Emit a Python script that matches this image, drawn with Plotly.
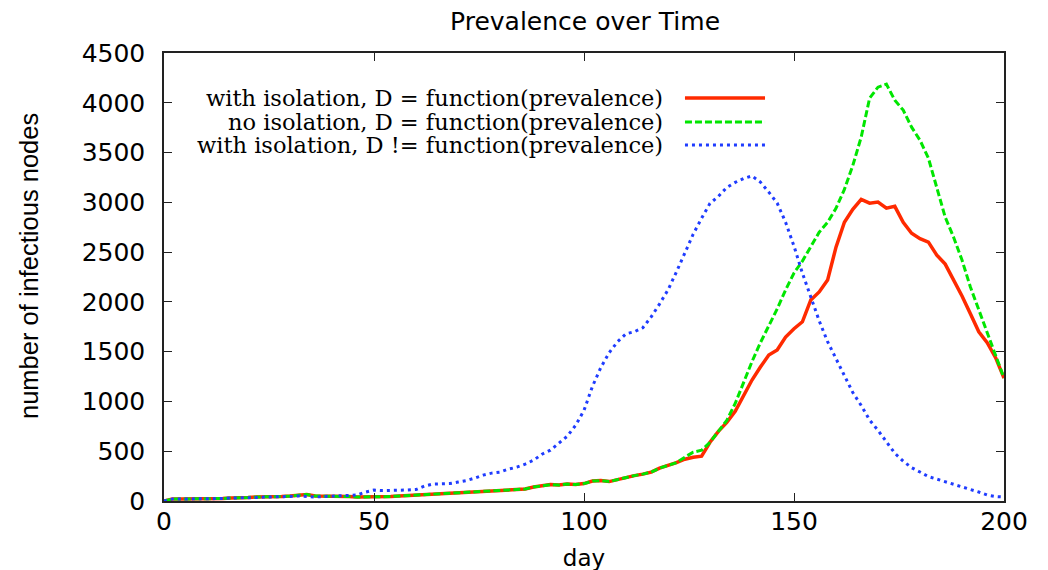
import plotly.graph_objects as go

days = list(range(0, 201, 2))

with_iso_dyn = [
    0, 20, 20, 20, 20, 25, 25, 25, 30, 30,
    35, 40, 40, 45, 45, 50, 55, 65, 50, 50,
    45, 45, 45, 40, 40, 40, 45, 45, 50, 55,
    60, 60, 65, 70, 75, 80, 85, 90, 95, 100,
    110, 115, 115, 120, 140, 150, 165, 160, 170, 165,
    175, 200, 205, 195, 215, 240, 255, 270, 290, 330,
    355, 385, 420, 440, 450, 590, 700, 790, 900, 1050,
    1215, 1345, 1466, 1516, 1647, 1730, 1800, 2020, 2100, 2219,
    2550, 2800, 2930, 3030, 2992, 3002, 2942, 2960, 2800, 2690,
    2635, 2600, 2470, 2380, 2220, 2060, 1880, 1700, 1590, 1440,
    1235,
]

no_iso_dyn = [
    0, 20, 20, 20, 20, 25, 25, 25, 30, 30,
    35, 40, 40, 45, 45, 50, 55, 65, 50, 50,
    45, 45, 45, 40, 40, 40, 45, 45, 50, 55,
    60, 60, 65, 70, 75, 80, 85, 90, 95, 100,
    110, 115, 115, 120, 140, 150, 165, 160, 170, 165,
    175, 200, 205, 195, 215, 240, 255, 270, 290, 330,
    355, 385, 440, 490, 510, 590, 700, 810, 980, 1200,
    1400, 1590, 1760, 1930, 2120, 2290, 2410, 2550, 2700, 2800,
    2940, 3130, 3370, 3655, 4046, 4157, 4187, 4026, 3926, 3755,
    3624, 3444, 3153, 2851, 2650, 2420, 2149, 1918, 1687, 1446,
    1235,
]

with_iso_fixed = [
    0, 20, 20, 20, 20, 20, 25, 25, 30, 30,
    30, 35, 40, 40, 45, 45, 50, 45, 40, 45,
    50, 50, 55, 60, 90, 110, 105, 105, 105, 110,
    115, 150, 170, 170, 175, 190, 205, 230, 260, 280,
    290, 320, 340, 370, 410, 470, 510, 580, 650, 760,
    910, 1150, 1340, 1490, 1600, 1680, 1700, 1740, 1850, 1980,
    2120, 2300, 2490, 2680, 2840, 2990, 3060, 3150, 3200, 3240,
    3265, 3203, 3102, 2992, 2800, 2560, 2289, 2040, 1810, 1600,
    1430, 1260, 1090, 960, 813, 710, 590, 480, 400, 335,
    291, 245, 220, 195, 170, 140, 115, 90, 60, 45,
    40,
]

series_names = [
    "with isolation, D = function(prevalence)",
    "no isolation, D = function(prevalence)",
    "with isolation, D != function(prevalence)",
]
series_colors = ["#ff2a00", "#00e600", "#1f3cff"]
series_dash = ["solid", "7px,3px", "3px,4px"]
series_width = [3.5, 3, 3]
series_values = [with_iso_dyn, no_iso_dyn, with_iso_fixed]

x_ticks = [0, 50, 100, 150, 200]
y_ticks = list(range(0, 4501, 500))

fig = go.Figure()
for name, vals, col, dash, w in zip(series_names, series_values, series_colors,
                                    series_dash, series_width):
    fig.add_trace(go.Scatter(
        x=days, y=vals, mode="lines", name=name,
        line=dict(color=col, width=w, dash=dash),
        showlegend=False,
    ))

# custom legend: right-aligned text with line sample to its right (gnuplot style)
leg_rows_y = [0.8996, 0.846, 0.7946]
for name, col, dash, w, yy in zip(series_names, series_colors, series_dash,
                                  series_width, leg_rows_y):
    fig.add_annotation(
        x=0.5964, y=yy, xref="paper", yref="paper",
        text=name, showarrow=False, xanchor="right", yanchor="middle",
        font=dict(family="DejaVu Serif", size=22.5, color="black"),
    )
    fig.add_shape(
        type="line", xref="paper", yref="paper",
        x0=0.6202, x1=0.7155, y0=yy, y1=yy,
        line=dict(color=col, width=w, dash=dash),
    )

# y-axis title (placed as in the reference, slightly above the axis centre)
fig.add_annotation(
    x=-0.1607, y=0.5246, xref="paper", yref="paper",
    text="number of infectious nodes", showarrow=False, textangle=-90,
    xanchor="center", yanchor="middle",
    font=dict(family="Liberation Sans", size=25.5, color="black"),
)

axis_common = dict(
    showline=True, linecolor="#222222", linewidth=1.5, mirror="ticks",
    ticks="inside", ticklen=8, tickwidth=1.2, tickcolor="#222222",
    showgrid=False, zeroline=False, automargin=False,
    tickfont=dict(family="DejaVu Sans", size=25, color="black"),
)

fig.update_layout(
    width=1048, height=570,
    margin=dict(l=156, r=52, t=45, b=77, autoexpand=False),
    paper_bgcolor="white", plot_bgcolor="white",
    title=dict(
        text="Prevalence over Time", x=0.5506, xanchor="center",
        y=1 - 4 / 570, yanchor="top", yref="container", automargin=False,
        font=dict(family="DejaVu Sans", size=25, color="black"),
    ),
    xaxis=dict(
        range=[0, 200], tickvals=x_ticks,
        title=dict(text="day", standoff=15,
                   font=dict(family="DejaVu Sans", size=23, color="black")),
        ticklabelstandoff=-3,
        **axis_common,
    ),
    yaxis=dict(
        range=[0, 4500], tickvals=y_ticks,
        ticklabelstandoff=12,
        **axis_common,
    ),
)

fig.write_html("out.html")
